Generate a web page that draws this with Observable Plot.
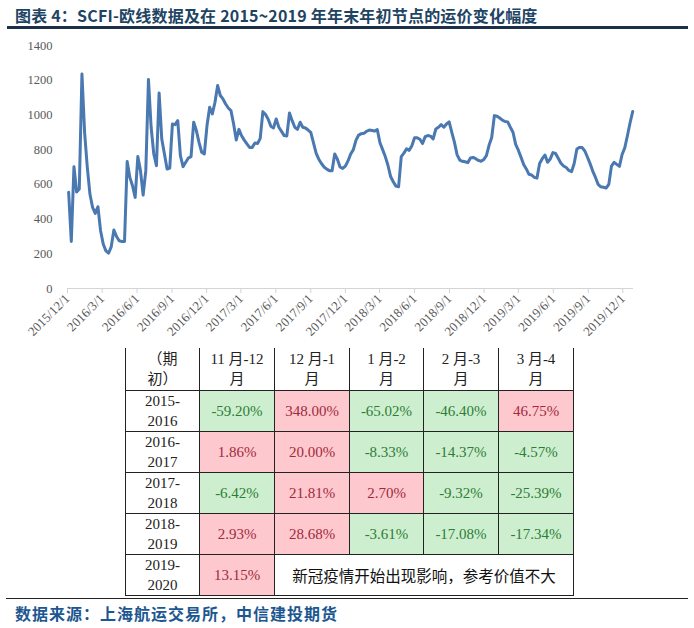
<!DOCTYPE html>
<html>
<head>
<meta charset="utf-8">
<script src="https://cdn.jsdelivr.net/npm/d3@7"></script>
<script src="https://cdn.jsdelivr.net/npm/@observablehq/plot@0.6"></script>
<style>
  html, body { margin: 0; padding: 0; background: #fff; }
  #page { position: relative; width: 694px; height: 628px; overflow: hidden; background: #fff; }
  #title { position: absolute; left: 15px; top: 3px; font-family: "Noto Sans CJK SC", sans-serif; font-weight: 700; font-size: 16px; color: #1e4463; white-space: nowrap; letter-spacing: 0.2px; }
  #titleRule { position: absolute; left: 7px; top: 26px; width: 681px; height: 2.5px; background: #1b2f47; }
  #chart { position: absolute; left: 0; top: 30px; }
  #tbl { position: absolute; left: 125px; top: 348px; border-collapse: collapse; table-layout: fixed; }
  #tbl td { border: 1px solid #222; text-align: center; vertical-align: middle; padding: 0;
            font-family: "Liberation Serif", "Noto Sans CJK SC", serif; font-size: 15px; line-height: 20px; color: #222; }
  #tbl tr.head td { border-top: none; height: 42px; }
  #tbl tr.body td { height: 40px; }
  #tbl td.pos { background: #fdc8ce; color: #a3283c; }
  #tbl td.neg { background: #cdefd0; color: #2e7d35; }
  #tbl td.note { font-family: "Noto Sans CJK SC", sans-serif; font-size: 15.5px; color: #111; }
  #bottomRule { position: absolute; left: 6px; top: 597.5px; width: 682px; height: 1.5px; background: #222; }
  #source { position: absolute; left: 15px; top: 601px; font-family: "Noto Sans CJK SC", sans-serif; font-weight: 700; font-size: 16px; letter-spacing: 1px; color: #1d5791; white-space: nowrap; }
</style>
</head>
<body>
<div id="page">
  <div id="title">图表 4：SCFI-欧线数据及在 2015~2019 年年末年初节点的运价变化幅度</div>
  <div id="titleRule"></div>
  <div id="chart"></div>
  <table id="tbl"></table>
  <div id="bottomRule"></div>
  <div id="source">数据来源：上海航运交易所，中信建投期货</div>
</div>
<script>
// ---- Line chart data (SCFI Europe, weekly) ----
const dates2015 = ["2015-12-04","2015-12-11","2015-12-18","2015-12-25"];
const values2015 = [554, 271, 702, 556];

const dates2016 = ["2016-01-01","2016-01-08","2016-01-15","2016-01-22","2016-01-29",
  "2016-02-05","2016-02-12","2016-02-19","2016-02-26",
  "2016-03-04","2016-03-11","2016-03-18","2016-03-25",
  "2016-04-01","2016-04-08","2016-04-15","2016-04-22","2016-04-29",
  "2016-05-06","2016-05-13","2016-05-20","2016-05-27",
  "2016-06-03","2016-06-10","2016-06-17","2016-06-24",
  "2016-07-01","2016-07-08","2016-07-15","2016-07-22","2016-07-29",
  "2016-08-05","2016-08-12","2016-08-19","2016-08-26",
  "2016-09-02","2016-09-09","2016-09-16","2016-09-23","2016-09-30",
  "2016-10-07","2016-10-14","2016-10-21","2016-10-28",
  "2016-11-04","2016-11-11","2016-11-18","2016-11-25",
  "2016-12-02","2016-12-09","2016-12-16","2016-12-23","2016-12-30"];
const values2016 = [573, 1236, 900, 700, 544, 467, 433, 471, 333, 256, 217, 204, 240, 337, 300, 275, 271, 271,
  731, 640, 592, 525, 760, 679, 538, 679, 1204, 929, 775, 708, 1127, 861, 775, 688, 694, 948, 944, 967,
  765, 702, 727, 752, 760, 958, 910, 842, 785, 775, 939, 1044, 1006, 1073, 1169];

const dates2017 = ["2017-01-06","2017-01-13","2017-01-20","2017-01-27",
  "2017-02-03","2017-02-10","2017-02-17","2017-02-24",
  "2017-03-03","2017-03-10","2017-03-17","2017-03-24","2017-03-31",
  "2017-04-07","2017-04-14","2017-04-21","2017-04-28",
  "2017-05-05","2017-05-12","2017-05-19","2017-05-26",
  "2017-06-02","2017-06-09","2017-06-16","2017-06-23","2017-06-30",
  "2017-07-07","2017-07-14","2017-07-21","2017-07-28",
  "2017-08-04","2017-08-11","2017-08-18","2017-08-25",
  "2017-09-01","2017-09-08","2017-09-15","2017-09-22","2017-09-29",
  "2017-10-06","2017-10-13","2017-10-20","2017-10-27",
  "2017-11-03","2017-11-10","2017-11-17","2017-11-24",
  "2017-12-01","2017-12-08","2017-12-15","2017-12-22","2017-12-29"];
const values2017 = [1112, 1092, 1063, 1040, 1025, 948, 856, 917, 880, 855, 833, 813, 813, 838, 835, 865,
  1019, 1002, 975, 935, 925, 977, 929, 905, 881, 879, 1011, 967, 929, 917, 958, 929, 925, 913, 900, 840,
  780, 745, 720, 700, 688, 679, 679, 775, 745, 700, 692, 705, 735, 775, 800, 855];

const dates2018 = ["2018-01-05","2018-01-12","2018-01-19","2018-01-26",
  "2018-02-02","2018-02-09","2018-02-16","2018-02-23",
  "2018-03-02","2018-03-09","2018-03-16","2018-03-23","2018-03-30",
  "2018-04-06","2018-04-13","2018-04-20","2018-04-27",
  "2018-05-04","2018-05-11","2018-05-18","2018-05-25",
  "2018-06-01","2018-06-08","2018-06-15","2018-06-22","2018-06-29",
  "2018-07-06","2018-07-13","2018-07-20","2018-07-27",
  "2018-08-03","2018-08-10","2018-08-17","2018-08-24","2018-08-31",
  "2018-09-07","2018-09-14","2018-09-21","2018-09-28",
  "2018-10-05","2018-10-12","2018-10-19","2018-10-26",
  "2018-11-02","2018-11-09","2018-11-16","2018-11-23","2018-11-30",
  "2018-12-07","2018-12-14","2018-12-21","2018-12-28"];
const values2018 = [884, 892, 894, 906, 913, 910, 907, 915, 840, 800, 760, 710, 645, 615, 590, 586, 760,
  780, 805, 796, 823, 868, 868, 860, 835, 875, 881, 878, 862, 919, 929, 944, 929, 948, 960, 900, 842, 770,
  740, 733, 730, 725, 752, 755, 748, 738, 733, 743, 765, 825, 870, 996];

const dates2019 = ["2019-01-04","2019-01-11","2019-01-18","2019-01-25",
  "2019-02-01","2019-02-08","2019-02-15","2019-02-22",
  "2019-03-01","2019-03-08","2019-03-15","2019-03-22","2019-03-29",
  "2019-04-05","2019-04-12","2019-04-19","2019-04-26",
  "2019-05-03","2019-05-10","2019-05-17","2019-05-24","2019-05-31",
  "2019-06-07","2019-06-14","2019-06-21","2019-06-28",
  "2019-07-05","2019-07-12","2019-07-19","2019-07-26",
  "2019-08-02","2019-08-09","2019-08-16","2019-08-23","2019-08-30",
  "2019-09-06","2019-09-13","2019-09-20","2019-09-27",
  "2019-10-04","2019-10-11","2019-10-18","2019-10-25",
  "2019-11-01","2019-11-08","2019-11-15","2019-11-22","2019-11-29",
  "2019-12-06","2019-12-13","2019-12-20","2019-12-27"];
const values2019 = [992, 982, 970, 962, 960, 929, 900, 830, 797, 757, 715, 689, 658, 654, 640, 636, 720,
  748, 769, 727, 746, 783, 778, 750, 722, 706, 697, 680, 673, 720, 804, 813, 812, 792, 756, 718, 675, 640,
  600, 586, 583, 579, 600, 705, 727, 715, 704, 772, 810, 880, 955, 1020];

const xTicks = ["2015-12-01","2016-03-01","2016-06-01","2016-09-01","2016-12-01","2017-03-01","2017-06-01",
  "2017-09-01","2017-12-01","2018-03-01","2018-06-01","2018-09-01","2018-12-01","2019-03-01","2019-06-01",
  "2019-09-01","2019-12-01"];
const yTicks = [0, 200, 400, 600, 800, 1000, 1200, 1400];

// ---- Table data ----
const tableCorner = "（期<br>初）";
const periodLabels = ["11 月-12<br>月", "12 月-1<br>月", "1 月-2<br>月", "2 月-3<br>月", "3 月-4<br>月"];
const rowLabels = ["2015-<br>2016", "2016-<br>2017", "2017-<br>2018", "2018-<br>2019", "2019-<br>2020"];
const row2015 = [-59.20, 348.00, -65.02, -46.40, 46.75];
const row2016 = [1.86, 20.00, -8.33, -14.37, -4.57];
const row2017 = [-6.42, 21.81, 2.70, -9.32, -25.39];
const row2018 = [2.93, 28.68, -3.61, -17.08, -17.34];
const row2019 = [13.15];
const noteText = "新冠疫情开始出现影响，参考价值不大";

// ---- Build line chart ----
const allDates = [...dates2015, ...dates2016, ...dates2017, ...dates2018, ...dates2019];
const allValues = [...values2015, ...values2016, ...values2017, ...values2018, ...values2019];
const series = allDates.map((d, i) => ({date: new Date(d), value: allValues[i]}));

const chart = Plot.plot({
  width: 694,
  height: 320,
  marginTop: 15,
  marginBottom: 62,
  marginLeft: 67,
  marginRight: 61,
  style: {fontFamily: "Liberation Serif, serif", fontSize: "12.5px", color: "#595959", background: "transparent"},
  x: {type: "utc", domain: [new Date("2015-12-01"), new Date("2019-12-29")], label: null},
  y: {domain: [0, 1400], label: null},
  marks: [
    Plot.ruleY([0], {stroke: "#d4d4d4", strokeWidth: 1}),
    Plot.axisY({ticks: yTicks, tickSize: 0, tickPadding: 15, tickFormat: d => String(d), fill: "#595959", fontSize: 12.5, label: null}),
    Plot.axisX({ticks: xTicks.map(d => new Date(d)), tickFormat: d3.utcFormat("%Y/%-m/%-d"), tickRotate: -45,
      tickSize: 5, tickPadding: 3, stroke: "#d4d4d4", fill: "#595959", fontSize: 13, label: null}),
    Plot.line(series, {x: "date", y: "value", stroke: "#4a78b0", strokeWidth: 3, strokeLinejoin: "round", strokeLinecap: "round"})
  ]
});
document.getElementById("chart").appendChild(chart);

// ---- Build table ----
const colWidths = [74, 75, 75, 74, 75, 75];
const tbl = document.getElementById("tbl");
const cg = document.createElement("colgroup");
colWidths.forEach(w => { const c = document.createElement("col"); c.style.width = w + "px"; cg.appendChild(c); });
tbl.appendChild(cg);
const fmt = v => v.toFixed(2) + "%";
let html = `<tr class="head"><td>${tableCorner}</td>` + periodLabels.map(p => `<td>${p}</td>`).join("") + `</tr>`;
const rows = [row2015, row2016, row2017, row2018];
rows.forEach((r, i) => {
  html += `<tr class="body"><td>${rowLabels[i]}</td>` +
    r.map(v => `<td class="${v >= 0 ? "pos" : "neg"}">${fmt(v)}</td>`).join("") + `</tr>`;
});
html += `<tr class="body"><td>${rowLabels[4]}</td>` +
  row2019.map(v => `<td class="${v >= 0 ? "pos" : "neg"}">${fmt(v)}</td>`).join("") +
  `<td class="note" colspan="4">${noteText}</td></tr>`;
tbl.insertAdjacentHTML("beforeend", html);
</script>
</body>
</html>
